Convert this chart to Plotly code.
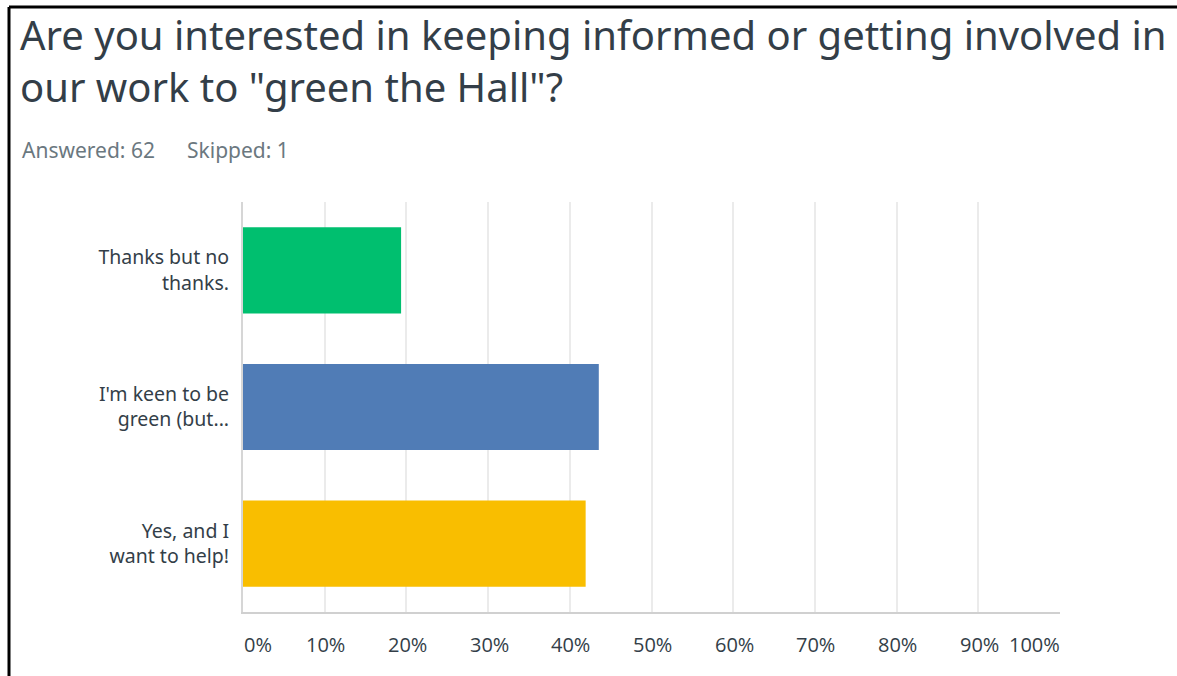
import plotly.graph_objects as go

# ---- data ----
categories = ["Thanks but no<br>thanks.", "I'm keen to be<br>green (but...", "Yes, and I<br>want to help!"]
percent_values = [19.35, 43.55, 41.94]
bar_colors = ["#00BF6F", "#507CB6", "#F9BE00"]
tick_values = [0, 10, 20, 30, 40, 50, 60, 70, 80, 90, 100]
tick_labels = ["0%", "10%", "20%", "30%", "40%", "50%", "60%", "70%", "80%", "90%", "100%"]
title_lines = ["Are you interested in keeping informed or getting involved in",
               'our work to "green the Hall"?']
answered_text = "Answered: 62"
skipped_text = "Skipped: 1"

TEXT = "#333E48"
W, H = 1177, 676
L, R, T, B = 243, 117, 202, 64
PW, PH = W - L - R, H - T - B


def px(x):
    return (x - L) / PW


def py(y):
    return 1 - (y - T) / PH


fig = go.Figure(go.Bar(
    x=percent_values, y=categories, orientation="h",
    marker=dict(color=bar_colors, line=dict(width=0)),
    width=0.63, hoverinfo="x+y",
))

fig.update_layout(
    width=W, height=H,
    margin=dict(l=L, r=R, t=T, b=B, autoexpand=False),
    paper_bgcolor="white", plot_bgcolor="white",
    showlegend=False,
    font=dict(family="Noto Sans", color=TEXT),
    xaxis=dict(range=[0, 100], tickvals=tick_values, showticklabels=False,
               showgrid=True, gridcolor="#EBEBEB", gridwidth=2,
               showline=True, linecolor="#D0D0D0", linewidth=2,
               zeroline=False, fixedrange=True),
    yaxis=dict(autorange="reversed", showgrid=False, zeroline=False,
               showline=True, linecolor="#D6D6D6", linewidth=2,
               ticks="", ticklabelstandoff=8,
               tickfont=dict(family="Noto Sans", size=19.5, color=TEXT)),
)

# title (two lines in one text block)
fig.add_annotation(x=px(18), y=py(60), xref="paper", yref="paper",
                   text="<br>".join(title_lines), showarrow=False, align="left",
                   xanchor="left", yanchor="middle",
                   font=dict(family="Noto Sans", size=40, color=TEXT))

# x tick labels: centred on gridlines, first/last kept inside the plot edges
for v, lab in zip(tick_values, tick_labels):
    if v == tick_values[0]:
        anchor, shift = "left", -1
    elif v == tick_values[-1]:
        anchor, shift = "right", 2
    else:
        anchor, shift = "center", 1
    fig.add_annotation(x=v, y=0, xref="x", yref="paper", text=lab, showarrow=False,
                       xanchor=anchor, yanchor="middle", xshift=shift, yshift=-32,
                       font=dict(family="Open Sans", size=20, color=TEXT))

# answered / skipped
fig.add_annotation(x=px(20), y=py(150), xref="paper", yref="paper", text=answered_text,
                   showarrow=False, xanchor="left", yanchor="middle",
                   font=dict(family="Noto Sans", size=21, color="#6B787F"))
fig.add_annotation(x=px(185), y=py(150), xref="paper", yref="paper", text=skipped_text,
                   showarrow=False, xanchor="left", yanchor="middle",
                   font=dict(family="Noto Sans", size=21, color="#6B787F"))

# frame (left and top edges)
fig.add_shape(type="line", xref="paper", yref="paper", x0=px(9), x1=px(9), y0=py(700), y1=py(7),
              line=dict(color="black", width=3))
fig.add_shape(type="line", xref="paper", yref="paper", x0=px(9), x1=px(1200), y0=py(7), y1=py(7),
              line=dict(color="black", width=3))

fig.write_html("out.html", config={"displayModeBar": False},
               post_script="document.body.style.margin='0';document.body.style.overflow='hidden';")
